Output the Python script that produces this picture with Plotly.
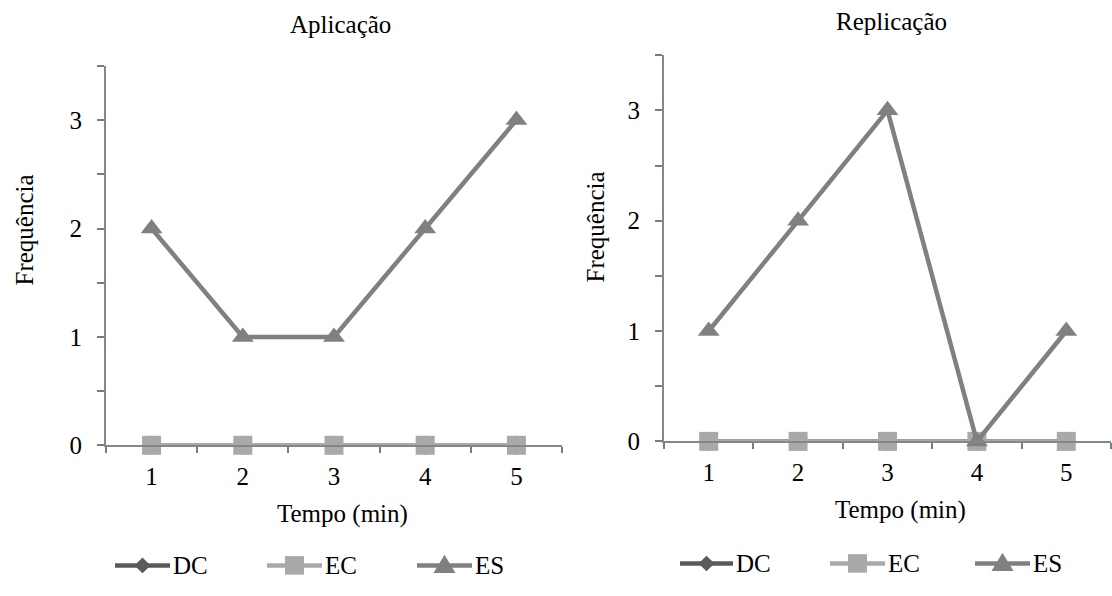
import plotly.graph_objects as go

tempo = [1, 2, 3, 4, 5]
aplic_dc = [0, 0, 0, 0, 0]
aplic_ec = [0, 0, 0, 0, 0]
aplic_es = [2, 1, 1, 2, 3]
repl_dc = [0, 0, 0, 0, 0]
repl_ec = [0, 0, 0, 0, 0]
repl_es = [1, 2, 3, 0, 1]
y_labels = ["0", "1", "2", "3"]
series_names = ["DC", "EC", "ES"]

FONT = "Liberation Serif"
FS = 25
C_DC = "#5a5a5a"
C_EC = "#a9a9a9"
C_ES = "#808080"
AX = "#868686"
TK = "#6e8080"
colors = [C_DC, C_EC, C_ES]
symbols = ["diamond", "square", "triangle-up"]
sizes = [15, 19, 19]

W, H = 1112, 596

fig = go.Figure()

def add_series(x, y, i, xa, ya):
    fig.add_trace(go.Scatter(
        x=x, y=y, name=series_names[i], mode="lines+markers",
        line=dict(color=colors[i], width=4.5),
        marker=dict(symbol=symbols[i], size=sizes[i], color=colors[i]),
        xaxis=xa, yaxis=ya, showlegend=False, cliponaxis=False))

for i, ys in enumerate([aplic_dc, aplic_ec, aplic_es]):
    add_series(tempo, ys, i, "x", "y")
for i, ys in enumerate([repl_dc, repl_ec, repl_es]):
    add_series(tempo, ys, i, "x2", "y2")

def xaxis(domain, anchor):
    return dict(domain=domain, anchor=anchor, range=[0.5, 5.5], tickvals=tempo,
                ticktext=[str(t) for t in tempo], ticks="outside", ticklen=0,
                ticklabelstandoff=8,
                showline=True, linecolor=AX, linewidth=2, showgrid=False, zeroline=False,
                tickfont=dict(family=FONT, size=FS, color="#000"),
                minor=dict(tickvals=[0.5, 1.5, 2.5, 3.5, 4.5, 5.5], ticks="outside",
                           ticklen=6, tickcolor=TK, tickwidth=2, showgrid=False),
                fixedrange=True)

def yaxis(domain, anchor):
    return dict(domain=domain, anchor=anchor, range=[0, 3.5], tickvals=[0, 1, 2, 3],
                ticktext=y_labels, ticks="outside", ticklen=7, tickcolor=TK, tickwidth=2,
                ticklabelstandoff=10,
                showline=True, linecolor=AX, linewidth=2, showgrid=False, zeroline=False,
                tickfont=dict(family=FONT, size=FS, color="#000"),
                minor=dict(tickvals=[0.5, 1.5, 2.5, 3.5], ticks="outside",
                           ticklen=7, tickcolor=TK, tickwidth=2, showgrid=False),
                fixedrange=True)

def px(x, y):
    return x / W, 1 - y / H

xl0, xl1 = 106 / W, 562 / W
xr0, xr1 = 664 / W, 1111 / W
yl0, yl1 = 1 - 456 / H, 1 - 67.5 / H
yr0, yr1 = 1 - 452 / H, 1 - 56.5 / H

fig.update_layout(
    width=W, height=H, margin=dict(l=0, r=0, t=0, b=0),
    paper_bgcolor="white", plot_bgcolor="white",
    font=dict(family=FONT, size=FS, color="#000"),
    xaxis=xaxis([xl0, xl1], "y"),
    yaxis=yaxis([yl0, yl1], "x"),
    xaxis2=xaxis([xr0, xr1], "y2"),
    yaxis2=yaxis([yr0, yr1], "x2"),
    showlegend=False,
)

ann = [
    dict(text="Aplicação", x=340, y=25),
    dict(text="Replicação", x=891, y=22),
    dict(text="Tempo (min)", x=342, y=526),
    dict(text="Tempo (min)", x=900, y=522),
    dict(text="Frequência", x=24, y=236, textangle=-90),
    dict(text="Frequência", x=596, y=233, textangle=-90),
]
for a in ann:
    xx, yy = px(a.pop("x"), a.pop("y"))
    fig.add_annotation(xref="paper", yref="paper", showarrow=False, x=xx, y=yy,
                       xanchor="center", yanchor="middle",
                       font=dict(family=FONT, size=FS, color="#000"), **a)

# custom legends (line, marker glyph, label)
legend_rows = [
    (579, [(115, 170), (267, 322), (417, 472)]),
    (577, [(680, 733), (830, 885), (975, 1030)]),
]
shapes = []
for ly, spans in legend_rows:
    for i, (a0, a1) in enumerate(spans):
        x0, y0 = px(a0, ly)
        x1, _ = px(a1, ly)
        shapes.append(dict(type="line", xref="paper", yref="paper", x0=x0, x1=x1, y0=y0, y1=y0,
                           line=dict(color=colors[i], width=4.5)))
        cx = (a0 + a1) / 2
        if i == 0:
            r = 8
            pts = [(cx, ly - r), (cx + r, ly), (cx, ly + r), (cx - r, ly)]
        elif i == 1:
            r = 9.5
            pts = [(cx - r, ly - r), (cx + r, ly - r), (cx + r, ly + r), (cx - r, ly + r)]
        else:
            r = 11
            pts = [(cx, ly - r), (cx + r, ly + 0.7 * r), (cx - r, ly + 0.7 * r)]
        path = "M " + " L ".join(f"{px(p[0], p[1])[0]:.5f},{px(p[0], p[1])[1]:.5f}" for p in pts) + " Z"
        shapes.append(dict(type="path", xref="paper", yref="paper", path=path,
                           fillcolor=colors[i], line=dict(width=0)))
        tx, ty = px(a1 + 1, ly)
        fig.add_annotation(xref="paper", yref="paper", showarrow=False, x=tx, y=ty,
                           xanchor="left", yanchor="middle", text=series_names[i],
                           font=dict(family=FONT, size=FS, color="#000"))
fig.update_layout(shapes=shapes)

fig.write_html("out.html")
